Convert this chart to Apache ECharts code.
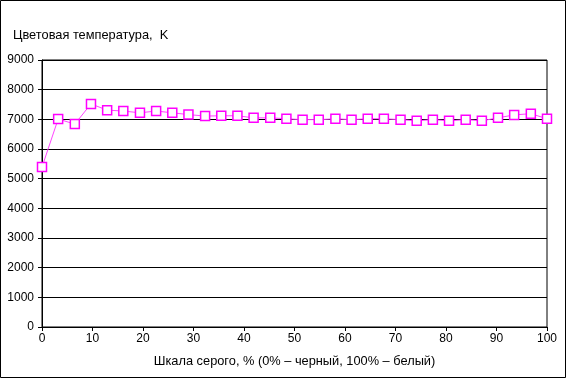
<!DOCTYPE html>
<html><head><meta charset="utf-8">
<script src="https://cdn.jsdelivr.net/npm/echarts@6/dist/echarts.min.js"></script>
<style>html,body{margin:0;padding:0;background:#fff}#c{width:567px;height:379px}</style>
</head><body><div id="c"></div>
<script>
const grayLevels = [0,3.2,6.5,9.7,12.9,16.1,19.4,22.6,25.8,29.0,32.3,35.5,38.7,41.9,45.2,48.4,51.6,54.8,58.1,61.3,64.5,67.7,71.0,74.2,77.4,80.6,83.9,87.1,90.3,93.5,96.8,100];
const colorTemp = [5390,7010,6840,7520,7310,7280,7220,7280,7220,7160,7110,7120,7120,7050,7050,7020,6990,6990,7020,6990,7020,7020,6990,6950,6990,6950,6990,6950,7050,7150,7190,7020];
const yTitle = 'Цветовая температура,  K';
const xTitle = 'Шкала серого, % (0% – черный, 100% – белый)';

const chart = echarts.init(document.getElementById('c'), null, {renderer:'canvas'});
const font = {fontFamily:'Liberation Sans, Arial, sans-serif', fontSize:12, color:'#000'};
const tfont = {fontFamily:'Liberation Sans, Arial, sans-serif', fontSize:12.8, color:'#000', fontWeight:'normal'};
chart.setOption({
  animation:false,
  backgroundColor:'#fff',
  graphic:[{type:'rect', shape:{x:0.5,y:0.5,width:565,height:377}, style:{fill:'none', stroke:'#000', lineWidth:1}, silent:true}],
  title:{text:yTitle, left:8, top:24, textStyle:tfont},
  grid:{left:42, right:20, top:60, bottom:52, show:true, borderColor:'#000', borderWidth:1, containLabel:false},
  xAxis:{type:'value', min:0, max:100, interval:10,
    name:xTitle, nameLocation:'middle', nameGap:28, nameTextStyle:tfont,
    axisLine:{lineStyle:{color:'#000'}}, axisTick:{show:true, length:4, lineStyle:{color:'#000'}},
    axisLabel:Object.assign({margin:6}, font), splitLine:{show:false}},
  yAxis:{type:'value', min:0, max:9000, interval:1000,
    axisLine:{show:true, lineStyle:{color:'#000'}}, axisTick:{show:true, length:4, lineStyle:{color:'#000'}},
    axisLabel:Object.assign({margin:8, formatter:v=>String(v)}, font),
    splitLine:{show:true, lineStyle:{color:'#000', width:1}}},
  series:[{type:'line', data:grayLevels.map((g,i)=>[g,colorTemp[i]]),
    symbol:'rect', symbolSize:9, showAllSymbol:true,
    lineStyle:{color:'#FF44FF', width:1},
    itemStyle:{color:'#fff', borderColor:'#FF00FF', borderWidth:1.5}}]
});
</script></body></html>
